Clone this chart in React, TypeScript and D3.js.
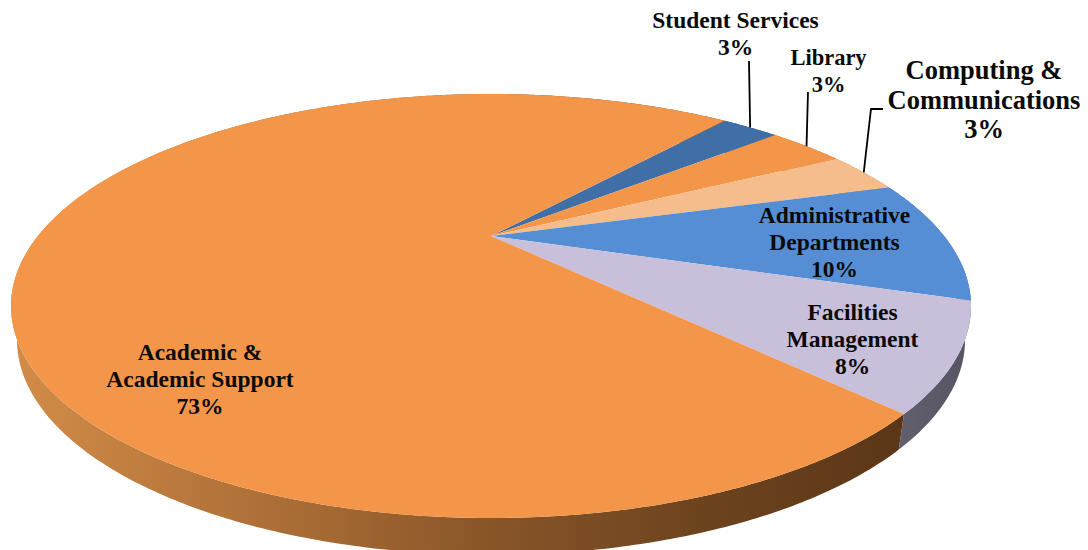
import * as d3 from "d3";

// Budget shares, clockwise starting from the Student Services slice
const categories = [
  "Student Services",
  "Library",
  "Computing & Communications",
  "Administrative Departments",
  "Facilities Management",
  "Academic & Academic Support",
];
const shares = [2.6, 3.4, 3.3, 9.5, 7.8, 73.4];
const labelLines = [
  ["Student Services"],
  ["Library"],
  ["Computing &", "Communications"],
  ["Administrative", "Departments"],
  ["Facilities", "Management"],
  ["Academic &", "Academic Support"],
];

const faceColors = ["#3F6FA6", "#F4964A", "#F6BD8C", "#558ED5", "#C8BFDA", "#F4964A"];
const wallColors = ["#2F5480", "#A96C35", "#B08A66", "#3F6AA0", "url(#wallGrey)", "url(#wallOrange)"];

const WIDTH = 1088;
const HEIGHT = 550;
const START_ANGLE = (40.2 * Math.PI) / 180;
const APEX_SHIFT = 0.33; // how far perspective lifts the pie centre inside the ellipse

// top face and bottom edge of the disc
const topRim = { cx: 491, cy: 306, rx: 480, ry: 212 };
const bottomRim = { cx: 491, cy: 340, rx: 474, ry: 215 };

type Rim = typeof topRim;
type Pt = [number, number];

// Circle angle (clockwise from 12 o'clock) to a point on the perspective ellipse
function project(rim: Rim, angle: number, r = 1): Pt {
  const xs = r * Math.sin(angle);
  const ys = -r * Math.cos(angle);
  const d = 1 - APEX_SHIFT * ys;
  const x = (xs * Math.sqrt(1 - APEX_SHIFT * APEX_SHIFT)) / d;
  const y = (ys - APEX_SHIFT) / d;
  return [rim.cx + x * rim.rx, rim.cy + y * rim.ry];
}

function rimPoints(rim: Rim, a0: number, a1: number): Pt[] {
  const n = Math.max(4, Math.ceil((a1 - a0) / 0.01));
  return d3.range(n + 1).map((i) => project(rim, a0 + ((a1 - a0) * i) / n));
}

const pieLayout = d3
  .pie<number>()
  .sort(null)
  .startAngle(START_ANGLE)
  .endAngle(START_ANGLE + Math.PI * 2);
const arcs = pieLayout(shares);

const poly = d3.line<Pt>().curve(d3.curveLinear);

const SERIF = "'Liberation Serif', serif";

// label placement: [centre x, first baseline, line step, font size]
const labelPlace: [number, number, number, number][] = [
  [735.5, 28, 27, 23.5],
  [828.5, 65, 27, 22.5],
  [984, 79, 29.5, 26.5],
  [834.5, 223, 27, 23.5],
  [852.5, 320, 27, 23.5],
  [200, 360, 27, 23.5],
];

// leader lines run from the rim at mid-slice up to the label
const leaderKnees: Pt[][] = [
  [[749, 61]],
  [[808, 92]],
  [[871, 109], [883, 109]],
];

export default function App() {
  return (
    <svg
      width={WIDTH}
      height={HEIGHT}
      viewBox={`0 0 ${WIDTH} ${HEIGHT}`}
      style={{ position: "absolute", left: 0, top: 0, display: "block", background: "#fff" }}
    >
      <defs>
        <linearGradient id="wallOrange" gradientUnits="userSpaceOnUse" x1={12} x2={900} y1={0} y2={0}>
          <stop offset="0" stopColor="#D28C48" />
          <stop offset="0.32" stopColor="#A96C35" />
          <stop offset="0.55" stopColor="#875428" />
          <stop offset="0.78" stopColor="#6C431E" />
          <stop offset="1" stopColor="#5C3717" />
        </linearGradient>
        <linearGradient id="wallGrey" gradientUnits="userSpaceOnUse" x1={895} x2={970} y1={0} y2={0}>
          <stop offset="0" stopColor="#62606F" />
          <stop offset="1" stopColor="#565462" />
        </linearGradient>
      </defs>

      {/* side wall, drawn first so the top face covers its hidden part */}
      {arcs.map((a, i) => {
        const upper = rimPoints(topRim, a.startAngle, a.endAngle);
        const lower = rimPoints(bottomRim, a.startAngle, a.endAngle).reverse();
        return (
          <path key={categories[i]} d={`${poly([...upper, ...lower])}Z`} fill={wallColors[i]} />
        );
      })}

      {/* top face */}
      {arcs.map((a, i) => {
        const apex = project(topRim, 0, 0);
        const rim = rimPoints(topRim, a.startAngle, a.endAngle);
        return <path key={categories[i]} d={`${poly([apex, ...rim])}Z`} fill={faceColors[i]} />;
      })}

      {leaderKnees.map((knees, i) => {
        const a = arcs[i];
        const anchor = project(topRim, (a.startAngle + a.endAngle) / 2);
        return (
          <path
            key={categories[i]}
            d={poly([anchor, ...knees]) ?? ""}
            fill="none"
            stroke="#000"
            strokeWidth={1.8}
          />
        );
      })}

      {labelLines.map((lines, i) => {
        const [x, y, step, size] = labelPlace[i];
        const pct = `${Math.round(shares[i])}%`;
        return (
          <text
            key={categories[i]}
            x={x}
            y={y}
            textAnchor="middle"
            fontFamily={SERIF}
            fontWeight="bold"
            fontSize={size}
            fill="#0A0A0A"
          >
            {[...lines, pct].map((t, j) => (
              <tspan key={j} x={x} y={y + j * step}>
                {t}
              </tspan>
            ))}
          </text>
        );
      })}
    </svg>
  );
}
